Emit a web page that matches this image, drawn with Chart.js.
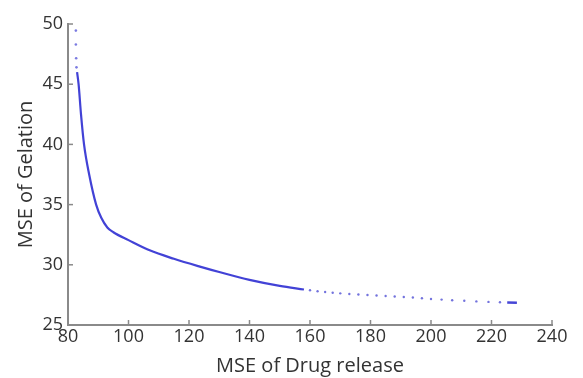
<!DOCTYPE html>
<html>
<head>
<meta charset="utf-8">
<script src="https://cdn.jsdelivr.net/npm/chart.js@4.4.1/dist/chart.umd.min.js"></script>
<style>
html,body{margin:0;padding:0;background:#fff}
#wrap{width:583px;height:378px;position:relative}
</style>
</head>
<body>
<div id="wrap"><canvas id="chart"></canvas></div>
<script>
// values
const curveX = [83.0, 83.5, 84.3, 85.3, 87.0, 89.3, 91.0, 93.0, 95.0, 100, 107, 115, 123.6, 130, 140, 150, 158]
const curveY = [46.0, 45.0, 42.5, 40.0, 37.5, 35.0, 33.9, 33.1, 32.7, 32.05, 31.2, 30.5, 29.85, 29.4, 28.75, 28.25, 27.95]

const topX = [82.6, 82.6, 82.7, 82.8]
const topY = [49.45, 48.3, 47.15, 46.4]

const tailX = [160, 162.5, 165, 167.5, 170, 173, 176, 179, 182, 185, 188, 191, 194, 197, 200, 203.5, 207, 211, 215, 219, 222.8]
const tailY = [27.88, 27.8, 27.74, 27.68, 27.63, 27.58, 27.53, 27.49, 27.45, 27.41, 27.37, 27.33, 27.28, 27.22, 27.16, 27.11, 27.06, 27.01, 26.96, 26.92, 26.89]

const endX = [225.2, 228.4]
const endY = [26.86, 26.84]

const xTicks = [80, 100, 120, 140, 160, 180, 200, 220, 240]
const yTicks = [25, 30, 35, 40, 45, 50]

const pts = (xs, ys) => xs.map((x, i) => ({x: x, y: ys[i]}))

/* inward tick marks like the original */
const innerTicks = {
  id: "innerTicks",
  afterDraw(chart){
    const c = chart.ctx
    const xs = chart.scales.x, ys = chart.scales.y
    const area = chart.chartArea
    c.save()
    c.strokeStyle = "#8a8a8a"
    c.lineWidth = 1.5
    xTicks.forEach(v => {
      const p = xs.getPixelForValue(v)
      c.beginPath(); c.moveTo(p, area.bottom); c.lineTo(p, area.bottom - 5); c.stroke()
    })
    yTicks.forEach(v => {
      const p = ys.getPixelForValue(v)
      c.beginPath(); c.moveTo(area.left, p); c.lineTo(area.left + 5, p); c.stroke()
    })
    c.restore()
  }
}

const tickFont = {family: "'Open Sans', 'Noto Sans', sans-serif", size: 18}
const titleFont = {family: "'Open Sans', 'Noto Sans', sans-serif", size: 20}

new Chart(document.getElementById("chart"), {
  type: "scatter",
  data: {
    datasets: [
      {
        data: pts(curveX, curveY),
        showLine: true,
        tension: 0.4,
        cubicInterpolationMode: "monotone",
        borderColor: "rgba(45,45,210,0.9)",
        borderWidth: 2.2,
        pointRadius: 0
      },
      {
        data: pts(topX, topY),
        pointRadius: 1.3,
        pointBorderWidth: 0,
        backgroundColor: "rgba(100,100,220,0.85)"
      },
      {
        data: pts(tailX, tailY),
        pointRadius: 1.2,
        pointBorderWidth: 0,
        backgroundColor: "rgba(90,90,215,0.85)"
      },
      {
        data: pts(endX, endY),
        showLine: true,
        borderColor: "rgba(50,50,210,0.9)",
        borderWidth: 2.5,
        pointRadius: 0
      }
    ]
  },
  options: {
    responsive: true,
    maintainAspectRatio: false,
    animation: false,
    layout: {padding: {left: 14, right: 31, top: 24, bottom: 0}},
    plugins: {legend: {display: false}, tooltip: {enabled: false}},
    scales: {
      x: {
        type: "linear",
        min: 80, max: 240,
        afterBuildTicks: s => { s.ticks = xTicks.map(v => ({value: v})) },
        afterFit: s => { s.height = 53 },
        grid: {display: true, drawOnChartArea: false, drawTicks: false},
        border: {display: true, color: "#8a8a8a", width: 2},
        ticks: {color: "#333", font: tickFont, padding: 1, maxRotation: 0},
        title: {display: true, text: "MSE of Drug release", color: "#333", font: titleFont, padding: {top: 0, bottom: 0}}
      },
      y: {
        type: "linear",
        min: 25, max: 50,
        afterBuildTicks: s => { s.ticks = yTicks.map(v => ({value: v})) },
        afterFit: s => { s.width = 54 },
        grid: {display: true, drawOnChartArea: false, drawTicks: false},
        border: {display: true, color: "#8a8a8a", width: 2},
        ticks: {color: "#333", font: tickFont, padding: 5},
        title: {display: true, text: "MSE of Gelation", color: "#333", font: titleFont, padding: {top: 0, bottom: 0}}
      }
    }
  },
  plugins: [innerTicks]
})
</script>
</body>
</html>
